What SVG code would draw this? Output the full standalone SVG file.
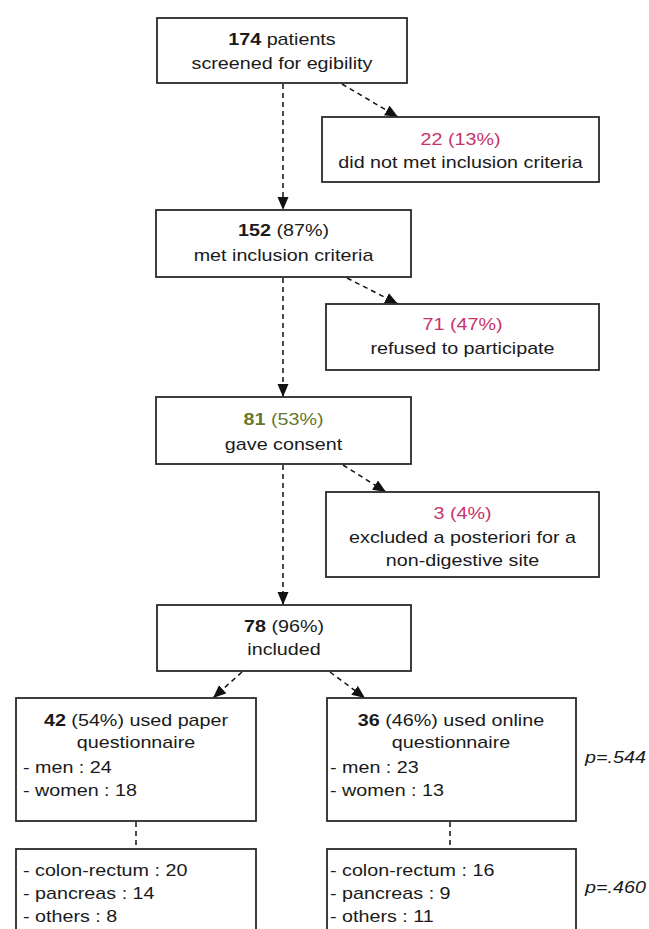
<svg xmlns="http://www.w3.org/2000/svg" width="649" height="929" viewBox="0 0 649 929">
<defs>
<marker id="ah" markerUnits="userSpaceOnUse" markerWidth="14" markerHeight="12" refX="13" refY="5.5" orient="auto">
<path d="M0,0 L13,5.5 L0,11 z" fill="#111"/>
</marker>
<style>
.box{fill:#fff;stroke:#2a2a2a;stroke-width:1.8}
.t{font-family:"Liberation Sans",Arial,sans-serif;font-size:17px;fill:#1a1a1a}
.c{text-anchor:middle}
.b{font-weight:bold}
.red{fill:#c8336a}
.grn{fill:#66782c}
.it{font-style:italic}
.conn line{stroke:#111;stroke-width:1.5;stroke-dasharray:5,4;fill:none}
.conn .a{marker-end:url(#ah)}
</style>
</defs>
<rect width="649" height="929" fill="#fff"/>

<g id="connectors" class="conn">
<line class="a" x1="283" y1="84" x2="283" y2="210"/>
<line class="a" x1="342" y1="84" x2="398" y2="117"/>
<line class="a" x1="283" y1="278" x2="283" y2="397"/>
<line class="a" x1="347" y1="278" x2="398" y2="304"/>
<line class="a" x1="283" y1="465" x2="283" y2="605"/>
<line class="a" x1="343" y1="465" x2="386" y2="492"/>
<line class="a" x1="242" y1="672" x2="213" y2="698"/>
<line class="a" x1="330" y1="672" x2="365" y2="698"/>
<line x1="136" y1="822" x2="136" y2="849"/>
<line x1="450" y1="822" x2="450" y2="849"/>
</g>

<g id="n174">
<rect class="box" x="157" y="18" width="250" height="65"/>
<text class="t c" transform="translate(282,0) scale(1.16,1)"><tspan x="0" y="45.5"><tspan class="b">174</tspan> patients</tspan><tspan x="0" y="69">screened for egibility</tspan></text>
</g>

<g id="n22">
<rect class="box" x="322" y="117" width="277" height="65"/>
<text class="t c" transform="translate(460.5,0) scale(1.16,1)"><tspan x="0" y="145.5" class="red">22 (13%)</tspan><tspan x="0" y="168">did not met inclusion criteria</tspan></text>
</g>

<g id="n152">
<rect class="box" x="156" y="210" width="255" height="67"/>
<text class="t c" transform="translate(283.5,0) scale(1.16,1)"><tspan x="0" y="236.5"><tspan class="b">152</tspan> (87%)</tspan><tspan x="0" y="261">met inclusion criteria</tspan></text>
</g>

<g id="n71">
<rect class="box" x="326" y="304" width="273" height="66"/>
<text class="t c" transform="translate(462.5,0) scale(1.16,1)"><tspan x="0" y="330.5" class="red">71 (47%)</tspan><tspan x="0" y="354">refused to participate</tspan></text>
</g>

<g id="n81">
<rect class="box" x="156" y="397" width="255" height="67"/>
<text class="t c" transform="translate(283.5,0) scale(1.16,1)"><tspan x="0" y="425.5" class="grn"><tspan class="b">81</tspan> (53%)</tspan><tspan x="0" y="450">gave consent</tspan></text>
</g>

<g id="n3">
<rect class="box" x="326" y="492" width="273" height="85"/>
<text class="t c" transform="translate(462.5,0) scale(1.16,1)"><tspan x="0" y="519" class="red">3 (4%)</tspan><tspan x="0" y="543">excluded a posteriori for a</tspan><tspan x="0" y="566.5">non-digestive site</tspan></text>
</g>

<g id="n78">
<rect class="box" x="157" y="605" width="254" height="66"/>
<text class="t c" transform="translate(284,0) scale(1.16,1)"><tspan x="0" y="632.5"><tspan class="b">78</tspan> (96%)</tspan><tspan x="0" y="655.5">included</tspan></text>
</g>

<g id="n42">
<rect class="box" x="16" y="698" width="240" height="123"/>
<text class="t c" transform="translate(136,0) scale(1.16,1)"><tspan x="0" y="726.5"><tspan class="b">42</tspan> (54%) used paper</tspan><tspan x="0" y="748.5">questionnaire</tspan></text>
<text class="t" transform="translate(23,0) scale(1.16,1)"><tspan x="0" y="773">- men : 24</tspan><tspan x="0" y="796.5">- women : 18</tspan></text>
</g>

<g id="n36">
<rect class="box" x="327" y="698" width="249" height="123"/>
<text class="t c" transform="translate(451,0) scale(1.16,1)"><tspan x="0" y="726.5"><tspan class="b">36</tspan> (46%) used online</tspan><tspan x="0" y="748.5">questionnaire</tspan></text>
<text class="t" transform="translate(330,0) scale(1.16,1)"><tspan x="0" y="773">- men : 23</tspan><tspan x="0" y="796.5">- women : 13</tspan></text>
</g>

<g id="n42sites">
<rect class="box" x="16" y="849" width="240" height="100"/>
<text class="t" transform="translate(23,0) scale(1.16,1)"><tspan x="0" y="876.5">- colon-rectum : 20</tspan><tspan x="0" y="899.5">- pancreas : 14</tspan><tspan x="0" y="922.5">- others : 8</tspan></text>
</g>

<g id="n36sites">
<rect class="box" x="327" y="849" width="249" height="100"/>
<text class="t" transform="translate(330,0) scale(1.16,1)"><tspan x="0" y="876.5">- colon-rectum : 16</tspan><tspan x="0" y="899.5">- pancreas : 9</tspan><tspan x="0" y="922.5">- others : 11</tspan></text>
</g>

<g id="pvalues">
<text class="t it" transform="translate(585,0) scale(1.16,1)" x="0" y="763">p=.544</text>
<text class="t it" transform="translate(585,0) scale(1.16,1)" x="0" y="893">p=.460</text>
</g>
</svg>
